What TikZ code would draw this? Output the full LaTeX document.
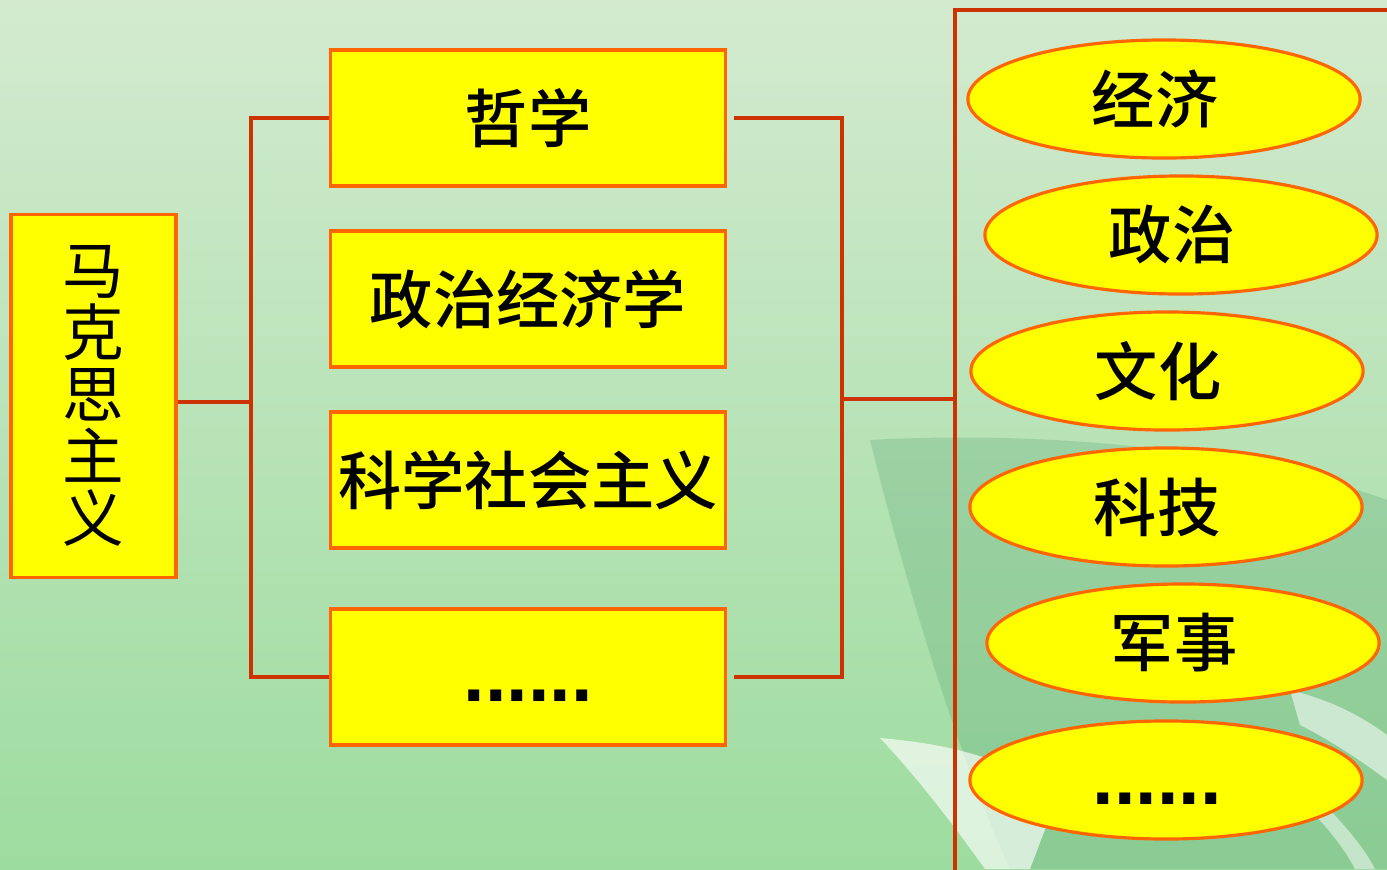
\documentclass[tikz,border=0pt]{standalone}
\usepackage{fontspec}
\newfontfamily\cjk{Noto Sans CJK SC}
\newfontfamily\cjkm{Noto Sans CJK SC}[UprightFont={* Medium}]
\newfontfamily\punkt{Liberation Sans}
\usetikzlibrary{shapes.geometric}

\definecolor{bgtop}{HTML}{D3EACF}
\definecolor{bgbot}{HTML}{9DDC9F}
\definecolor{swoosh}{HTML}{5FA878}
\definecolor{kante}{HTML}{FF6600}
\definecolor{linie}{HTML}{CC3300}
\definecolor{gelb}{HTML}{FFFF00}

\newcommand{\punktzeile}{\vphantom{学}{\punkt\bfseries\fontsize{22}{22}\selectfont ......}}

\tikzset{
	kasten/.style={draw=kante,fill=gelb,line width=0.9pt,inner sep=0pt,
		minimum width=3.94cm,minimum height=1.36cm,
		font=\cjkm\fontsize{18}{18}\selectfont},
	oval/.style={ellipse,draw=kante,fill=gelb,line width=0.9pt,inner sep=0pt,
		minimum width=3.92cm,minimum height=1.18cm,
		font=\cjkm\fontsize{18}{18}\selectfont,
		execute at begin node=\kern-1.8mm},
	verbinder/.style={draw=linie,line width=0.9pt}
}

\begin{document}
\begin{tikzpicture}[x=0.01cm,y=-0.01cm]
\useasboundingbox (0,0) rectangle (1387,869);
\clip (0,0) rectangle (1387,869);
%Hintergrund
\shade[top color=bgtop,bottom color=bgbot] (0,0) rectangle (1387,869);
\fill[swoosh,opacity=.3] (870,440) .. controls (1050,430) and (1250,450) .. (1387,500) -- (1387,869) -- (1010,869) .. controls (960,760) and (910,600) .. cycle;
\fill[white,opacity=.65] (880,738) .. controls (960,745) and (1000,760) .. (1060,790) -- (1030,869) -- (985,869) .. controls (950,820) and (915,775) .. cycle;
\fill[white,opacity=.55] (1290,690) .. controls (1330,700) and (1360,715) .. (1387,735) -- (1387,780) .. controls (1360,760) and (1330,740) .. (1300,725) -- cycle;
\fill[white,opacity=.5] (1320,800) .. controls (1350,830) and (1365,850) .. (1375,869) -- (1355,869) .. controls (1345,850) and (1330,830) .. (1310,810) -- cycle;

%Rahmen rechts
\draw[verbinder] (955,900) -- (955,10) -- (1400,10);

%links
\node[kasten,minimum width=1.65cm,minimum height=3.62cm,align=center,
	font=\cjk\fontsize{17.5}{17.6}\selectfont] (mks) at (93.5,396) {马\\克\\思\\主\\义};

%Mitte
\node[kasten] (zx) at (528,118) {哲学};
\node[kasten] (zzjjx) at (528,299) {政治经济学};
\node[kasten] (kxshzy) at (528,480) {科学社会主义};
\node[kasten] (mehr) at (528,677) {\punktzeile};

%rechts
\node[oval] (jj) at (1164,99) {经济};
\node[oval] (zz) at (1181,235) {政治};
\node[oval] (wh) at (1167,371) {文化};
\node[oval] (kj) at (1166,507) {科技};
\node[oval] (js) at (1183,643) {军事};
\node[oval] (weiter) at (1166,780) {\punktzeile};

\coordinate (jl) at (251,402);
\coordinate (jr) at (842,399);
\coordinate (rahmen) at (955,399);

\draw[verbinder] (mks.east |- jl) -- (jl);
\draw[verbinder] (zx.west) -| (jl) |- (mehr.west);
\draw[verbinder] ([xshift=2pt]zx.east) -| (jr) |- ([xshift=2pt]mehr.east);
\draw[verbinder] (jr) -- (rahmen);
\end{tikzpicture}
\end{document}
